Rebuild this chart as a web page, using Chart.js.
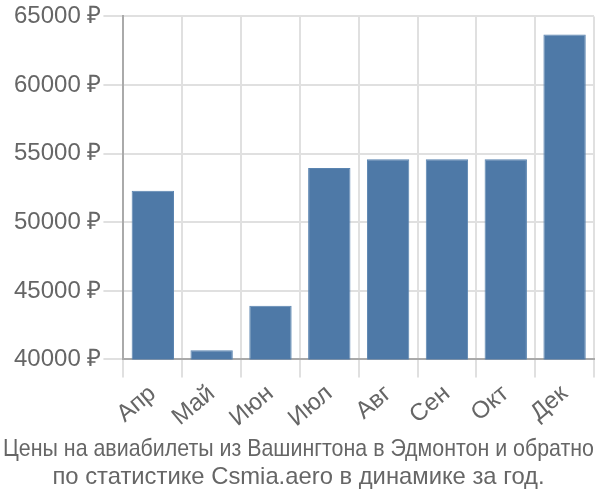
<!DOCTYPE html>
<html><head><meta charset="utf-8">
<script src="https://cdn.jsdelivr.net/npm/chart.js@4"></script>
<style>html,body{margin:0;padding:0;background:#fff}#w{width:600px;height:500px}</style>
</head><body><div id="w"><canvas id="c"></canvas></div>
<script>
const months = ["Апр","Май","Июн","Июл","Авг","Сен","Окт","Дек"];
const prices = [52300, 40680, 43920, 53950, 54600, 54600, 54600, 63690];
const yTicks = [40000, 45000, 50000, 55000, 60000, 65000];
const titleLines = ["Цены на авиабилеты из Вашингтона в Эдмонтон и обратно", "по статистике Csmia.aero в динамике за год."];

Chart.defaults.font.family = "'Liberation Sans', Arial, sans-serif";
Chart.defaults.color = "#666";
new Chart(document.getElementById('c'), {
  type: 'bar',
  data: { labels: months, datasets: [{ data: prices, backgroundColor: '#4e79a7', borderColor: '#5a84b0', borderWidth: 1 }] },
  options: {
    responsive: true, maintainAspectRatio: false, animation: false,
    layout: { padding: { right: 6, top: 4, left: 3, bottom: 0 } },
    plugins: {
      legend: { display: false },
      tooltip: { enabled: false },
      title: { display: true, position: 'bottom', text: titleLines, color: '#666', font: { size: 23.8, weight: 'normal' }, padding: { top: 0, bottom: 8 }, lineHeight: 1.092 }
    },
    scales: {
      x: {
        grid: { color: '#e0e0e0', lineWidth: 2, tickLength: 18, offset: true },
        border: { color: '#aaa', width: 2 },
        ticks: { font: { size: 24 }, color: '#666', minRotation: 40, maxRotation: 40, padding: 2 }
      },
      y: {
        min: 40000, max: 65000,
        afterBuildTicks: (s) => { s.ticks = yTicks.map(v => ({ value: v })); },
        afterFit: (s) => { s.width += 9; },
        grid: { color: '#e0e0e0', lineWidth: 2, tickLength: 20 },
        border: { color: '#aaa', width: 2 },
        ticks: { font: { size: 24 }, color: '#666', padding: 2, callback: (v) => v + ' ₽' }
      }
    }
  }
});
</script></body></html>
